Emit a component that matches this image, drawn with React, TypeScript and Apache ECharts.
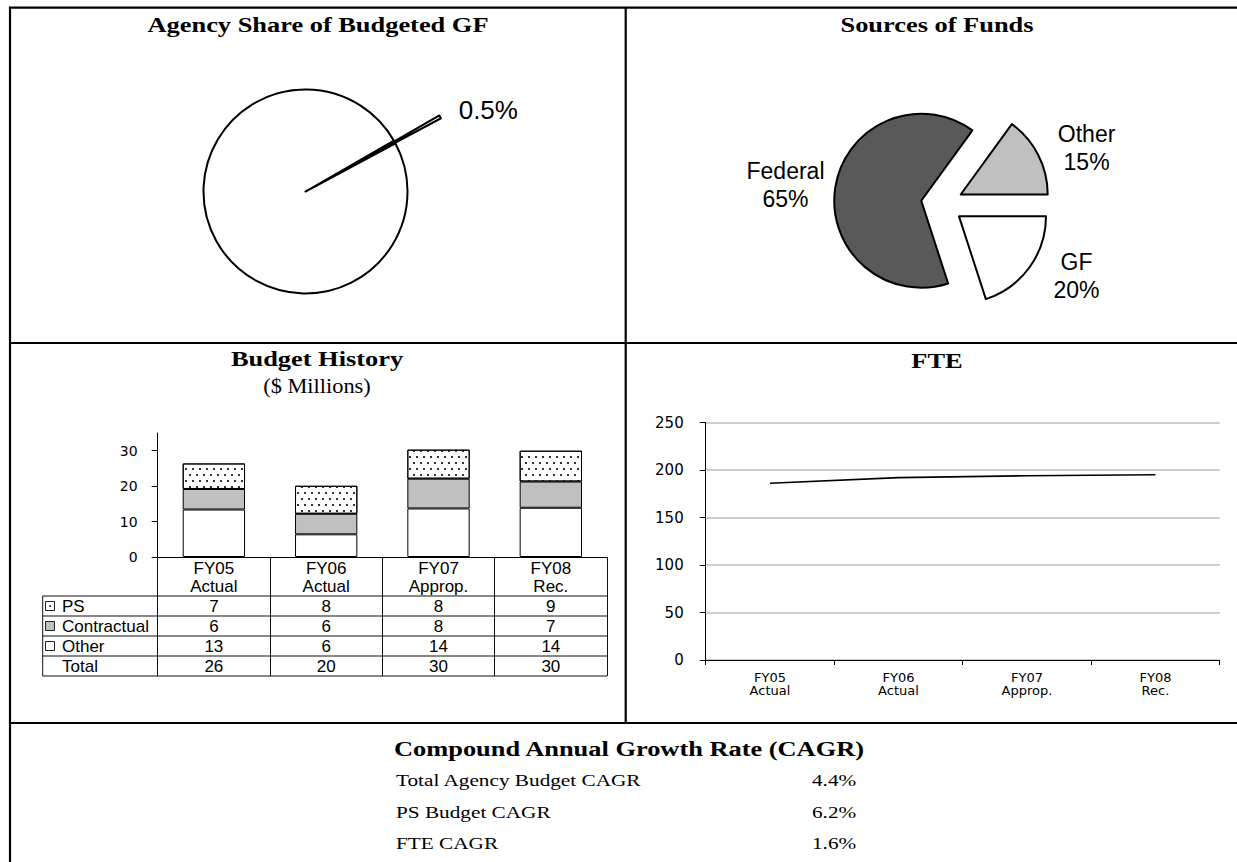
import React, { useEffect, useRef } from 'react';
import * as echarts from 'echarts';

const fyLabels = ['FY05', 'FY06', 'FY07', 'FY08'];
const fyTypes = ['Actual', 'Actual', 'Approp.', 'Rec.'];
const psValues = [7.2, 7.9, 8.2, 8.7];
const contractualValues = [5.8, 5.8, 8.4, 7.4];
const otherValues = [13.4, 6.4, 13.7, 13.9];
const fteValues = [186, 192, 194, 195];
const agencyShareNames = ['Agency', 'Rest of GF'];
const agencyShareValues = [0.5, 99.5];
const fundNames = ['Other', 'GF', 'Federal'];
const fundValues = [15, 20, 65];
const fundColors = ['#c0c0c0', '#ffffff', '#595959'];
const budgetTickValues = [0, 10, 20, 30];
const tableRowNames = ['PS', 'Contractual', 'Other', 'Total'];
const cagrLabels = ['Total Agency Budget CAGR', 'PS Budget CAGR', 'FTE CAGR'];
const cagrValues = ['4.4%', '6.2%', '1.6%'];

const SANS = 'Liberation Sans, Arial, sans-serif';
const WIDE = 'DejaVu Sans, sans-serif';
const SERIF = 'Liberation Serif, Times New Roman, serif';

export default function App() {
  const ref = useRef<HTMLDivElement>(null);
  useEffect(() => {
    const chart = echarts.init(ref.current as HTMLDivElement, null, { renderer: 'svg' });

    const psRow = psValues.map((v) => Math.round(v));
    const conRow = contractualValues.map((v) => Math.round(v));
    const othRow = otherValues.map((v) => Math.round(v));
    const totRow = psValues.map((v, i) => Math.round(v + contractualValues[i] + otherValues[i]));

    const line = (x1: number, y1: number, x2: number, y2: number, w = 1, c = '#000') => ({
      type: 'line',
      silent: true,
      shape: { x1, y1, x2, y2 },
      style: { stroke: c, lineWidth: w },
      z: 100,
    });
    const text = (
      t: string,
      x: number,
      y: number,
      size: number,
      opts: { bold?: boolean; align?: string; scaleX?: number; family?: string } = {}
    ) => ({
      type: 'text',
      silent: true,
      x,
      y,
      scaleX: opts.scaleX ?? 1,
      z: 100,
      style: {
        text: t,
        fontFamily: opts.family ?? SERIF,
        fontSize: size,
        fontWeight: opts.bold ? 'bold' : 'normal',
        fill: '#000',
        align: opts.align ?? 'center',
        textAlign: opts.align ?? 'center',
        verticalAlign: 'middle',
        textVerticalAlign: 'middle',
      },
    });

    // table geometry
    const tblLeft = 42.7;
    const tblRight = 607;
    const rowLines = [596, 616, 636, 656, 676];

    const graphics: any[] = [
      // frame
      line(9, 7.7, 1245, 7.7, 2.2),
      line(10, 7, 10, 870, 2.2),
      line(625.7, 7, 625.7, 723, 2.2),
      line(9, 343, 1245, 343, 2.2),
      line(9, 723, 1245, 723, 2.2),
      // titles
      text('Agency Share of Budgeted GF', 318, 24, 22, { bold: true, scaleX: 1.2 }),
      text('Sources of Funds', 937, 24, 22, { bold: true, scaleX: 1.2 }),
      text('Budget History', 317, 358, 22, { bold: true, scaleX: 1.2 }),
      text('($ Millions)', 317, 386, 20, { scaleX: 1.12 }),
      text('FTE', 937, 360, 22, { bold: true, scaleX: 1.2 }),
      text('Compound Annual Growth Rate (CAGR)', 629, 748, 22, { bold: true, scaleX: 1.2 }),
      // table lines
      ...rowLines.map((y) => line(tblLeft, y, tblRight, y, 1, '#111')),
      line(tblLeft, rowLines[0], tblLeft, rowLines[rowLines.length - 1], 1, '#111'),
    ];

    // table legend column
    tableRowNames.forEach((name, i) => {
      const cy = (rowLines[i] + rowLines[i + 1]) / 2;
      if (i < 3) {
        graphics.push({
          type: 'rect',
          silent: true,
          z: 100,
          shape: { x: 45.5, y: cy - 4.5, width: 9, height: 9 },
          style: { fill: i === 1 ? '#c0c0c0' : '#fff', stroke: '#222', lineWidth: 1 },
        });
        if (i === 0) {
          graphics.push({
            type: 'rect',
            silent: true,
            z: 101,
            shape: { x: 49.3, y: cy - 0.7, width: 1.6, height: 1.6 },
            style: { fill: '#222' },
          });
        }
      }
      graphics.push(text(name, 62, cy + 0.5, 17, { align: 'left', family: SANS }));
    });

    // CAGR rows
    const cagrY = [780, 812, 843];
    cagrLabels.forEach((lab, i) => {
      graphics.push(text(lab, 396, cagrY[i], 17, { align: 'left', scaleX: 1.25 }));
      graphics.push(text(cagrValues[i], 812, cagrY[i], 17, { align: 'left', scaleX: 1.25 }));
    });

    const fundLabelPos = [
      [1073, 137],
      [1059, 293],
      [791, 183],
    ];

    const option: any = {
      animation: false,
      backgroundColor: '#fff',
      grid: [
        { left: 157.7, top: 433, width: 449.3, height: 124, containLabel: false },
        { left: 705.7, top: 422.5, width: 514, height: 237.5, containLabel: false },
      ],
      xAxis: [
        {
          type: 'category',
          gridIndex: 0,
          data: fyLabels,
          boundaryGap: true,
          axisLine: { show: true, lineStyle: { color: '#000', width: 1 } },
          axisTick: { show: true, interval: 0, length: 119, lineStyle: { color: '#111', width: 1 } },
          axisLabel: {
            interval: 0,
            margin: 2,
            color: '#000',
            formatter: (_v: string, i: number) =>
              `{h1|${fyLabels[i]}}\n{h2|${fyTypes[i]}}\n{v|${psRow[i]}}\n{v|${conRow[i]}}\n{v|${othRow[i]}}\n{v|${totRow[i]}}`,
            rich: {
              h1: { fontFamily: SANS, fontSize: 17, lineHeight: 18, color: '#000' },
              h2: { fontFamily: SANS, fontSize: 17, lineHeight: 19, color: '#000' },
              v: { fontFamily: SANS, fontSize: 17, lineHeight: 20, color: '#000' },
            },
          },
          splitLine: { show: false },
        },
        {
          type: 'category',
          gridIndex: 1,
          data: fyLabels,
          boundaryGap: true,
          axisLine: { show: true, lineStyle: { color: '#000', width: 1 } },
          axisTick: { show: true, interval: 0, length: 5, lineStyle: { color: '#000', width: 1 } },
          axisLabel: {
            interval: 0,
            margin: 10.5,
            color: '#000',
            fontFamily: WIDE,
            fontSize: 13,
            lineHeight: 13,
            formatter: (_v: string, i: number) => `${fyLabels[i]}\n${fyTypes[i]}`,
          },
          splitLine: { show: false },
        },
      ],
      yAxis: [
        {
          type: 'value',
          gridIndex: 0,
          min: 0,
          max: 35,
          interval: 10,
          axisLine: { show: true, lineStyle: { color: '#000', width: 1 } },
          axisTick: { show: true, length: 6, customValues: budgetTickValues, lineStyle: { color: '#000' } },
          axisLabel: {
            customValues: budgetTickValues,
            margin: 20,
            color: '#000',
            fontFamily: WIDE,
            fontSize: 14,
          },
          splitLine: { show: false },
        },
        {
          type: 'value',
          gridIndex: 1,
          min: 0,
          max: 250,
          interval: 50,
          axisLine: { show: true, lineStyle: { color: '#000', width: 1 } },
          axisTick: { show: true, length: 6, lineStyle: { color: '#000' } },
          axisLabel: { margin: 22, color: '#000', fontFamily: WIDE, fontSize: 15 },
          splitLine: { show: true, lineStyle: { color: '#bdbdbd', width: 1.5 } },
        },
      ],
      series: [
        {
          type: 'pie',
          center: [305.5, 191.5],
          radius: 102,
          startAngle: 29.9,
          clockwise: true,
          selectedMode: 'multiple',
          selectedOffset: 52,
          percentPrecision: 1,
          avoidLabelOverlap: false,
          itemStyle: { color: '#fff', borderColor: '#000', borderWidth: 2 },
          select: { itemStyle: { borderColor: '#000', borderWidth: 2 } },
          emphasis: { disabled: true },
          label: {
            show: true,
            position: 'outside',
            formatter: (p: any) => `${p.percent}%`,
            fontFamily: SANS,
            fontSize: 26,
            color: '#000',
          },
          labelLine: { show: false },
          labelLayout: (p: any) =>
            p.dataIndex === 0 ? { x: 487, y: 100, align: 'center', verticalAlign: 'middle' } : {},
          data: agencyShareNames.map((n, i) => ({
            name: n,
            value: agencyShareValues[i],
            selected: i === 0,
            label: { show: i === 0 },
          })),
        },
        {
          type: 'pie',
          center: [942, 204],
          radius: 87,
          startAngle: 54,
          clockwise: true,
          selectedMode: 'multiple',
          selectedOffset: 21,
          percentPrecision: 0,
          avoidLabelOverlap: false,
          itemStyle: { borderColor: '#000', borderWidth: 2 },
          select: { itemStyle: { borderColor: '#000', borderWidth: 2 } },
          emphasis: { disabled: true },
          label: {
            show: true,
            position: 'outside',
            formatter: '{b}\n{d}%',
            fontFamily: SANS,
            fontSize: 23,
            lineHeight: 28,
            color: '#000',
          },
          labelLine: { show: false },
          labelLayout: (p: any) => ({
            x: fundLabelPos[p.dataIndex][0],
            y: fundLabelPos[p.dataIndex][1],
            align: 'center',
            verticalAlign: 'middle',
          }),
          data: fundNames.map((n, i) => ({
            name: n,
            value: fundValues[i],
            selected: true,
            itemStyle: { color: fundColors[i] },
          })),
        },
        {
          type: 'bar',
          name: 'Other',
          xAxisIndex: 0,
          yAxisIndex: 0,
          stack: 'budget',
          barWidth: '55.5%',
          itemStyle: { color: '#fff', borderColor: '#000', borderWidth: 1 },
          emphasis: { disabled: true },
          data: otherValues,
        },
        {
          type: 'bar',
          name: 'Contractual',
          xAxisIndex: 0,
          yAxisIndex: 0,
          stack: 'budget',
          barWidth: '55.5%',
          itemStyle: { color: '#c0c0c0', borderColor: '#000', borderWidth: 1 },
          emphasis: { disabled: true },
          data: contractualValues,
        },
        {
          type: 'bar',
          name: 'PS',
          xAxisIndex: 0,
          yAxisIndex: 0,
          stack: 'budget',
          barWidth: '55.5%',
          itemStyle: {
            color: '#fff',
            borderColor: '#000',
            borderWidth: 1,
            decal: {
              symbol: 'rect',
              symbolSize: 1,
              color: '#333',
              backgroundColor: '#fff',
              dashArrayX: [
                [1.3, 4.7],
                [0, 3, 1.3, 1.7],
              ],
              dashArrayY: [1.3, 3.2],
              rotation: 0,
            },
          },
          emphasis: { disabled: true },
          data: psValues,
        },
        {
          type: 'line',
          name: 'FTE',
          xAxisIndex: 1,
          yAxisIndex: 1,
          symbol: 'none',
          lineStyle: { color: '#000', width: 1.6 },
          emphasis: { disabled: true },
          data: fteValues,
        },
      ],
      graphic: graphics,
    };

    chart.setOption(option);
    return () => chart.dispose();
  }, []);

  return (
    <div
      ref={ref}
      style={{ position: 'absolute', left: 0, top: 0, width: 1237, height: 862, background: '#fff' }}
    />
  );
}
